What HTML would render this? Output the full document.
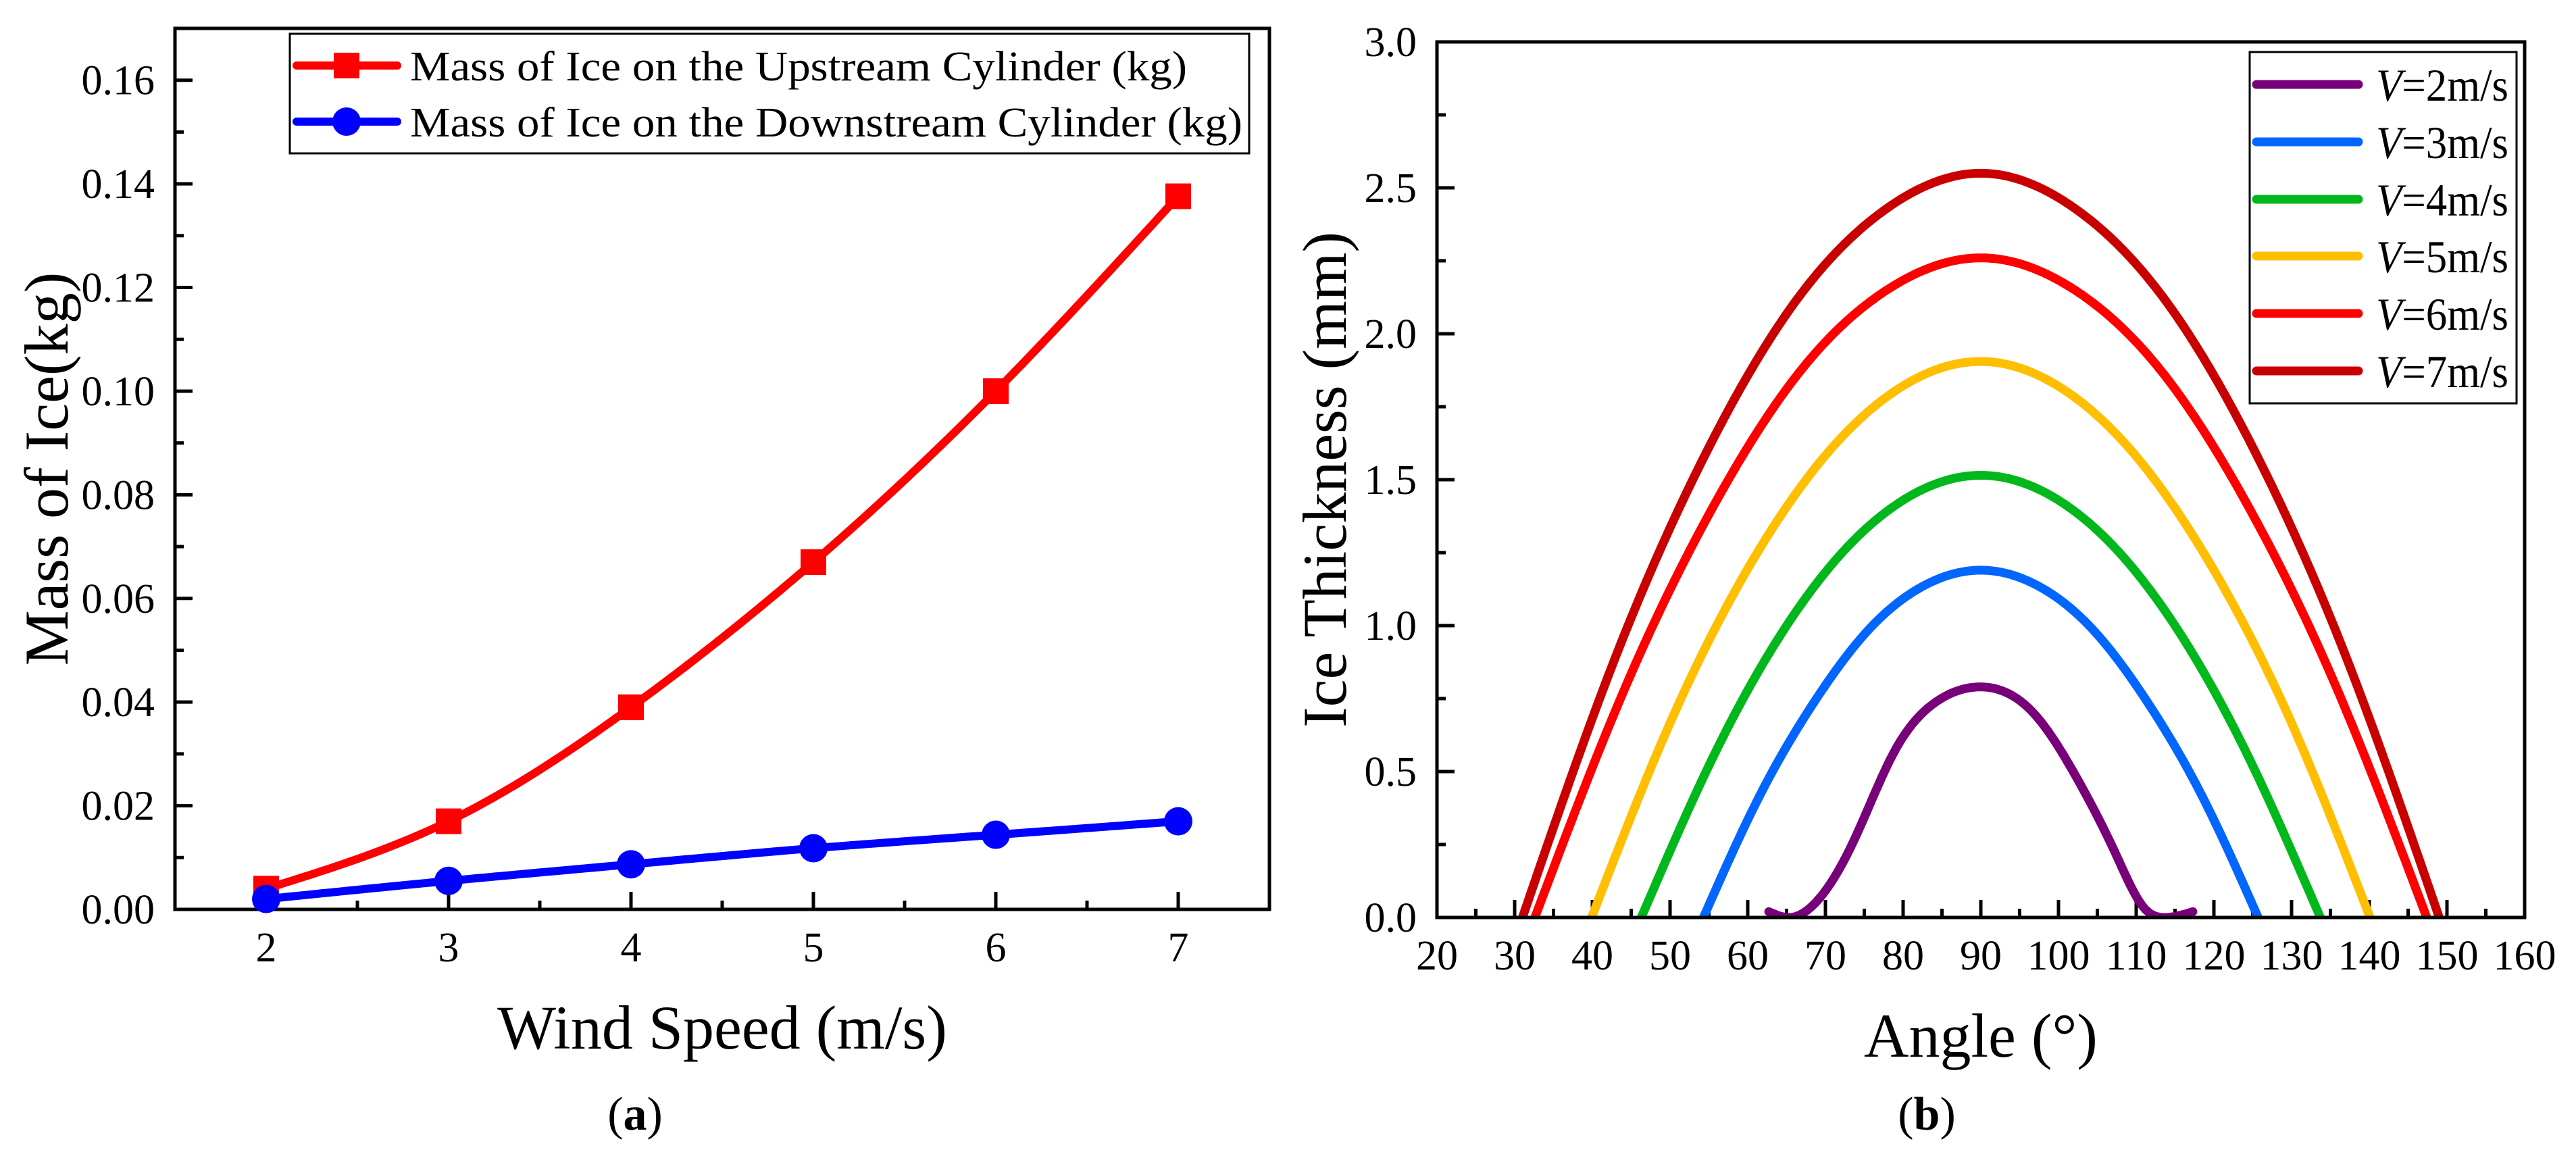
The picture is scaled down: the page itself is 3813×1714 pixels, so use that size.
<!DOCTYPE html>
<html><head><meta charset="utf-8"><style>
html,body{margin:0;padding:0;background:#fff}
svg{display:block}
text{font-family:"Liberation Serif","Times New Roman",serif;fill:#000}
</style></head><body>
<svg id="fig" width="3813" height="1714" viewBox="0 0 3813 1714" xmlns="http://www.w3.org/2000/svg">
<g id="chartA"></g>
<g id="chartB"></g>
</svg>
<script>
// ---- Chart (a) data ----
const windSpeeds = [2, 3, 4, 5, 6, 7];
const upstreamMass = [0.004, 0.017, 0.039, 0.067, 0.100, 0.1376];
const downstreamMass = [0.002, 0.0055, 0.0087, 0.0118, 0.0144, 0.017];
const aYTicks = ["0.00","0.02","0.04","0.06","0.08","0.10","0.12","0.14","0.16"];
const aXTicks = ["2","3","4","5","6","7"];
// ---- Chart (b) data ----
const bYTicks = ["0.0","0.5","1.0","1.5","2.0","2.5","3.0"];
const bXTicks = ["20","30","40","50","60","70","80","90","100","110","120","130","140","150","160"];
const v2Angle = [62.7,65.5,68.7,73.6,78.9,84.3,90,96.8,102.1,107.5,111.1,113.75,117.3];
const v2Thick = [0.02,0,0.05,0.26,0.57,0.74,0.79,0.70,0.49,0.21,0.03,0,0.02];
const v3Angle = [54.3,61.4,68.6,75.7,82.9,90,97.1,104.3,111.4,118.6,125.7];
const v3Thick = [0,0.41,0.74,0.99,1.14,1.19,1.14,0.99,0.74,0.41,0];
const v4Angle = [46.3,55.0,63.8,72.5,81.3,90,98.7,107.5,116.2,125.0,133.7];
const v4Thick = [0,0.52,0.95,1.26,1.45,1.515,1.45,1.26,0.95,0.52,0];
const v5Angle = [39.9,49.9,59.9,69.9,79.9,90,100.0,110.0,120.0,130.1,140.1];
const v5Thick = [0,0.66,1.19,1.58,1.82,1.905,1.82,1.58,1.19,0.66,0];
const v6Angle = [32.6,44.1,55.6,67.0,78.5,90,101.5,113.0,124.4,135.9,147.4];
const v6Thick = [0,0.78,1.41,1.88,2.16,2.26,2.16,1.88,1.41,0.78,0];
const v7Angle = [31,42.8,54.6,66.4,78.2,90,101.8,113.6,125.4,137.2,149];
const v7Thick = [0,0.88,1.59,2.12,2.435,2.55,2.435,2.12,1.59,0.88,0];
const seriesLabels = ["2","3","4","5","6","7"];

const NS="http://www.w3.org/2000/svg";
function mk(tag, attrs, parent){const e=document.createElementNS(NS,tag);for(const k in attrs)e.setAttribute(k,attrs[k]);parent.appendChild(e);return e;}
function spline(xs, ys){
  const n=xs.length,h=[],al=[],l=[1],mu=[0],z=[0],c=new Array(n).fill(0),b=[],d=[];
  for(let i=0;i<n-1;i++)h[i]=xs[i+1]-xs[i];
  for(let i=1;i<n-1;i++)al[i]=3/h[i]*(ys[i+1]-ys[i])-3/h[i-1]*(ys[i]-ys[i-1]);
  for(let i=1;i<n-1;i++){l[i]=2*(xs[i+1]-xs[i-1])-h[i-1]*mu[i-1];mu[i]=h[i]/l[i];z[i]=(al[i]-h[i-1]*z[i-1])/l[i];}
  c[n-1]=0;
  for(let j=n-2;j>=1;j--){c[j]=z[j]-mu[j]*c[j+1];}
  c[0]=0;
  for(let j=0;j<n-1;j++){b[j]=(ys[j+1]-ys[j])/h[j]-h[j]*(c[j+1]+2*c[j])/3;d[j]=(c[j+1]-c[j])/(3*h[j]);}
  return x=>{let j=0;while(j<n-2&&x>xs[j+1])j++;const t=x-xs[j];return ys[j]+b[j]*t+c[j]*t*t+d[j]*t*t*t;};
}
function splinePath(xs, ys, xS, yS, step){
  const f=spline(xs,ys);let d="";
  for(let x=xs[0];x<=xs[xs.length-1]+1e-9;x+=step){d+=(d?" L":"M")+xS(x).toFixed(1)+","+yS(Math.max(f(x),-0.02)).toFixed(1);}
  d+=" L"+xS(xs[xs.length-1]).toFixed(1)+","+yS(ys[ys.length-1]).toFixed(1);
  return d;
}

// ---------- Chart A ----------
(function(){
  const g=document.getElementById('chartA');
  const L=259,R=1879,T=42,B=1346;
  const xS=v=>L+(v-1.5)/6*(R-L);
  const yS=v=>B-v/0.17*(B-T);
  for(let i=0;i<=16;i++){
    const y=yS(i*0.01),len=(i%2==0)?26:13;
    const t=mk('line',{x1:L,y1:y,x2:L+len,y2:y,stroke:'#000','stroke-width':5},g);
    
    
  }
  aYTicks.forEach((s,i)=>{
    const t=mk('text',{x:229,y:yS(i*0.02)+21,'text-anchor':'end','font-size':62},g);t.textContent=s;
    
    
  });
  for(let v=2;v<=7;v+=0.5){
    const x=xS(v),len=(v%1==0)?26:13;
    const t=mk('line',{x1:x,y1:B,x2:x,y2:B-len,stroke:'#000','stroke-width':5},g);
    
    
  }
  aXTicks.forEach((s,i)=>{
    const t=mk('text',{x:xS(windSpeeds[0]+i),y:1423,'text-anchor':'middle','font-size':62},g);t.textContent=s;
    
    
  });
  const fr=mk('rect',{x:L,y:T,width:R-L,height:B-T,fill:'none',stroke:'#000','stroke-width':5},g);
  
  
  const pu=mk('path',{d:splinePath(windSpeeds,upstreamMass,xS,yS,0.05),fill:'none',stroke:'#ff0000','stroke-width':12,'stroke-linejoin':'round'},g);
  
  
  const pd=mk('path',{d:splinePath(windSpeeds,downstreamMass,xS,yS,0.05),fill:'none',stroke:'#0000ff','stroke-width':12,'stroke-linejoin':'round'},g);
  
  
  windSpeeds.forEach((w,i)=>{
    const m=mk('rect',{x:xS(w)-19,y:yS(upstreamMass[i])-19,width:38,height:38,fill:'#ff0000'},g);
    
    
  });
  windSpeeds.forEach((w,i)=>{
    const m=mk('circle',{cx:xS(w),cy:yS(downstreamMass[i]),r:21,fill:'#0000ff'},g);
    
    
  });
  const lg=mk('g',{},g);
  
  
  mk('rect',{x:429,y:50,width:1420,height:177,fill:'#fff',stroke:'#000','stroke-width':3},lg);
  const e1=mk('g',{},lg);
  
  
  mk('line',{x1:439,y1:97,x2:588,y2:97,stroke:'#ff0000','stroke-width':12,'stroke-linecap':'round'},e1);
  mk('rect',{x:494,y:78,width:38,height:38,fill:'#ff0000'},e1);
  const t1=mk('text',{x:607,y:119,'font-size':62,textLength:1150,lengthAdjust:'spacingAndGlyphs'},e1);t1.textContent="Mass of Ice on the Upstream Cylinder (kg)";
  const e2=mk('g',{},lg);
  
  
  mk('line',{x1:439,y1:180,x2:588,y2:180,stroke:'#0000ff','stroke-width':12,'stroke-linecap':'round'},e2);
  mk('circle',{cx:513,cy:180,r:21,fill:'#0000ff'},e2);
  const t2=mk('text',{x:607,y:202,'font-size':62,textLength:1232,lengthAdjust:'spacingAndGlyphs'},e2);t2.textContent="Mass of Ice on the Downstream Cylinder (kg)";
  const yt=mk('text',{x:0,y:0,'font-size':92,'text-anchor':'middle',transform:'translate(100,694) rotate(-90)'},g);yt.textContent="Mass of Ice(kg)";
  
  
  const xt=mk('text',{x:1069,y:1552,'font-size':92,'text-anchor':'middle'},g);xt.textContent="Wind Speed (m/s)";
  
  
  const cap=mk('text',{x:940,y:1672,'font-size':70,'text-anchor':'middle'},g);cap.innerHTML='(<tspan font-weight="bold">a</tspan>)';
  
  
})();

// ---------- Chart B ----------
(function(){
  const g=document.getElementById('chartB');
  const L=2127,R=3737,T=62,B=1358;
  const xS=v=>L+(v-20)/140*(R-L);
  const yS=v=>B-v/3*(B-T);
  for(let i=0;i<=12;i++){
    const y=yS(i*0.25),len=(i%2==0)?26:13;
    const t=mk('line',{x1:L,y1:y,x2:L+len,y2:y,stroke:'#000','stroke-width':5},g);
    
    
  }
  bYTicks.forEach((s,i)=>{
    const t=mk('text',{x:2097,y:yS(i*0.5)+21,'text-anchor':'end','font-size':62},g);t.textContent=s;
    
    
  });
  for(let i=0;i<=28;i++){
    const x=xS(20+i*5),len=(i%2==0)?26:13;
    const t=mk('line',{x1:x,y1:B,x2:x,y2:B-len,stroke:'#000','stroke-width':5},g);
    
    
  }
  bXTicks.forEach((s,i)=>{
    const t=mk('text',{x:xS(20+i*10),y:1435,'text-anchor':'middle','font-size':62},g);t.textContent=s;
    
    
  });
  const colors=['#780078','#0066ff','#00b81c','#ffbf00','#ff0000','#c80000'];
  const angles=[v2Angle,v3Angle,v4Angle,v5Angle,v6Angle,v7Angle];
  const thick=[v2Thick,v3Thick,v4Thick,v5Thick,v6Thick,v7Thick];
  const defs=mk('defs',{},g);
  const cp=mk('clipPath',{id:'clipB'},defs);
  mk('rect',{x:L,y:T,width:R-L,height:B-T},cp);
  const cg=mk('g',{'clip-path':'url(#clipB)'},g);
  for(let s=0;s<6;s++){
    const p=mk('path',{d:splinePath(angles[s],thick[s],xS,yS,0.5),fill:'none',stroke:colors[s],'stroke-width':13,'stroke-linejoin':'round','stroke-linecap':'round'},cg);
    
    
  }
  const fr=mk('rect',{x:L,y:T,width:R-L,height:B-T,fill:'none',stroke:'#000','stroke-width':5},g);
  
  
  const lg=mk('g',{},g);
  
  
  mk('rect',{x:3330,y:77,width:395,height:520,fill:'#fff',stroke:'#000','stroke-width':3},lg);
  const rows=[125,210,295,379,464,549];
  for(let s=0;s<6;s++){
    const e=mk('g',{},lg);
    
    
    mk('line',{x1:3340,y1:rows[s],x2:3491,y2:rows[s],stroke:colors[s],'stroke-width':13,'stroke-linecap':'round'},e);
    const t=mk('text',{x:3517,y:rows[s]+24,'font-size':68,textLength:196,lengthAdjust:'spacingAndGlyphs'},e);
    t.innerHTML='<tspan font-style="italic">V</tspan>='+seriesLabels[s]+'m/s';
  }
  const yt=mk('text',{x:0,y:0,'font-size':92,'text-anchor':'middle',transform:'translate(1992,710) rotate(-90)'},g);yt.textContent="Ice Thickness (mm)";
  
  
  const xt=mk('text',{x:2932,y:1564,'font-size':92,'text-anchor':'middle'},g);xt.textContent="Angle (°)";
  
  
  const cap=mk('text',{x:2852,y:1672,'font-size':70,'text-anchor':'middle'},g);cap.innerHTML='(<tspan font-weight="bold">b</tspan>)';
  
  
})();
</script>
</body></html>
